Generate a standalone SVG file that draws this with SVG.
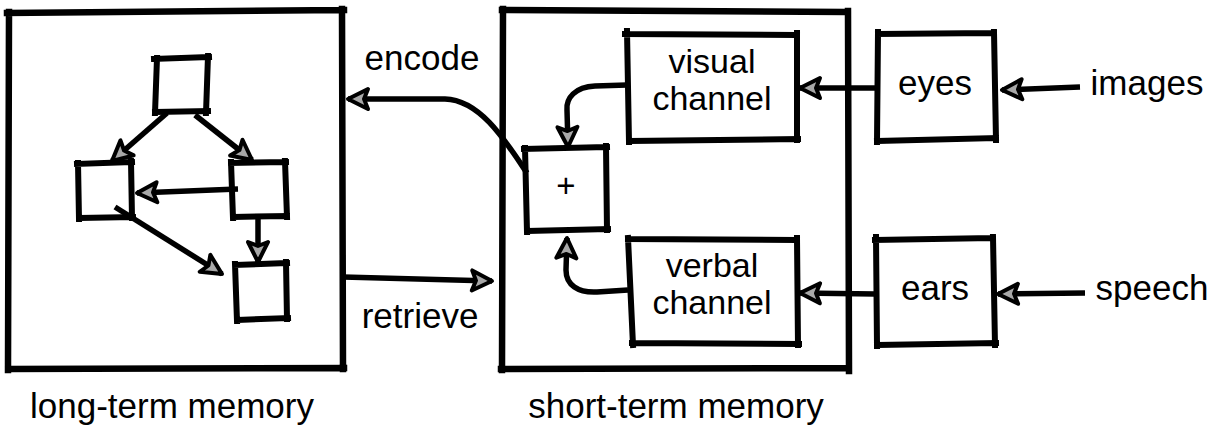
<svg xmlns="http://www.w3.org/2000/svg" width="1215" height="426" viewBox="0 0 1215 426">
  <style>
    .box{fill:none;stroke:#000;stroke-width:6;stroke-linecap:square;stroke-linejoin:round}
    .big{stroke-width:6.5}
    .conn{fill:none;stroke:#000;stroke-width:5.5;stroke-linecap:butt;stroke-linejoin:round;marker-end:url(#ah)}
    text{font-family:"Liberation Sans",Arial,Helvetica,sans-serif;font-size:35px;fill:#000}
    .c{text-anchor:middle}
    .two{font-size:34px}
  </style>
  <defs>
    <!-- sketchy open arrowhead with a grey core -->
    <marker id="ah" markerUnits="userSpaceOnUse" markerWidth="34" markerHeight="34" viewBox="-26 -17 34 34" refX="0" refY="0" orient="auto">
      <path d="M0,0 L-20,-10 L-16,0 L-20,10 Z" fill="#a8a8a8" stroke="#000" stroke-width="4" stroke-linejoin="round"/>
    </marker>
  </defs>
  <rect width="1215" height="426" fill="#fff"/>

  <!-- long-term memory container -->
  <g id="long-term">
    <path class="box big" d="M7,13 L344,10 M342,9 L343,369 M344,368 L8,369 M8,370 L9,12"/>
    <text x="172" y="418" class="c">long-term memory</text>
  </g>

  <!-- concept graph inside long-term memory -->
  <g id="lt-top"><path class="box" d="M154,59 L209,57 M208,56 L206,113 M208,111 L155,112 M155,113 L157,58"/></g>
  <g id="lt-left"><path class="box" d="M77,164 L132,162 M131,161 L132,218 M133,217 L79,218 M79,219 L78,163"/></g>
  <g id="lt-right"><path class="box" d="M231,163 L286,162 M285,161 L287,217 M287,216 L233,217 M233,218 L231,162"/></g>
  <g id="lt-bottom"><path class="box" d="M236,265 L287,263 M286,262 L287,319 M288,318 L237,320 M237,321 L235,264"/></g>

  <!-- short-term memory container -->
  <g id="short-term">
    <path class="box big" d="M502,10 L846,12 M848,11 L849,371 M847,368 L501,369 M502,370 L503,9"/>
    <text x="676" y="418" class="c">short-term memory</text>
  </g>

  <g id="combine">
    <path class="box" d="M524,149 L607,147 M606,146 L607,230 M608,229 L527,231 M527,232 L525,148"/>
    <text x="566" y="197" class="c" style="font-size:33px">+</text>
  </g>

  <g id="visual-channel">
    <path class="box" d="M625,34 L797,35 M797,33 L797,140 M798,139 L629,141 M629,142 L627,31"/>
    <text x="712" y="73" class="c two">visual</text>
    <text x="712" y="110" class="c two">channel</text>
  </g>

  <g id="verbal-channel">
    <path class="box" d="M628,239 L797,240 M797,238 L798,345 M799,344 L632,343 M633,345 L628,238"/>
    <text x="712" y="277" class="c two">verbal</text>
    <text x="712" y="314" class="c two">channel</text>
  </g>

  <g id="eyes">
    <path class="box" d="M878,34 L994,33 M994,32 L996,140 M996,138 L877,141 M877,142 L878,32"/>
    <text x="935" y="95" class="c">eyes</text>
  </g>

  <g id="ears">
    <path class="box" d="M875,240 L993,238 M993,237 L995,345 M996,343 L877,345 M877,346 L876,237"/>
    <text x="935" y="300" class="c">ears</text>
  </g>

  <!-- free labels -->
  <text x="1147" y="95" class="c">images</text>
  <text x="1152" y="300" class="c">speech</text>
  <text x="422" y="70" class="c">encode</text>
  <text x="420" y="328" class="c">retrieve</text>

  <g id="connectors">
    <path class="conn" d="M167,113 L112,161"/>
    <path class="conn" d="M195,115 L252,160"/>
    <path class="conn" d="M238,189 L137,193"/>
    <path class="conn" d="M115,207 L222,274"/>
    <path class="conn" d="M258,217 L258,262"/>
    <path class="conn" d="M527,173 C505,140 480,100 445,99 L348,99"/>
    <path class="conn" d="M343,277 L492,281"/>
    <path class="conn" d="M627,85 L595,86 C575,87 566,98 567,110 L568,147"/>
    <path class="conn" d="M628,290 L597,292 C578,293 566,285 566,270 L567,238"/>
    <path class="conn" d="M877,88 L800,88"/>
    <path class="conn" d="M875,294 L800,293"/>
    <path class="conn" d="M1080,87 L1002,90"/>
    <path class="conn" d="M1085,293 L998,294"/>
  </g>
</svg>
